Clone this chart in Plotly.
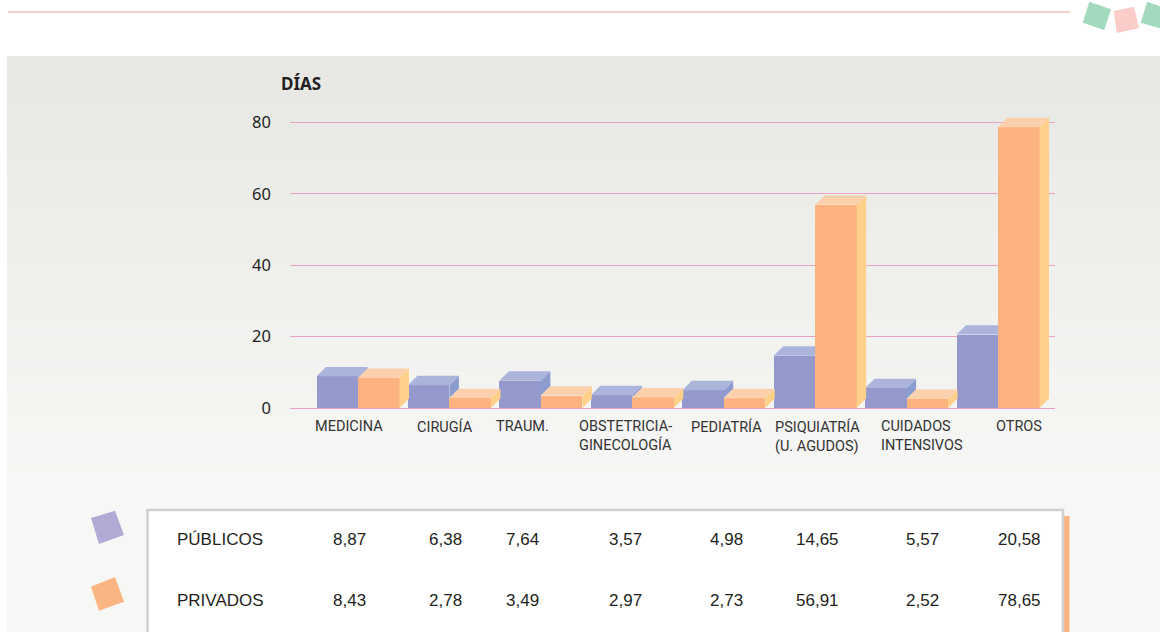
import plotly.graph_objects as go

# ---------------- data ----------------
categories = ["MEDICINA", "CIRUGÍA", "TRAUM.", "OBSTETRICIA-<br>GINECOLOGÍA", "PEDIATRÍA",
              "PSIQUIATRÍA<br>(U. AGUDOS)", "CUIDADOS<br>INTENSIVOS", "OTROS"]
publicos = [8.87, 6.38, 7.64, 3.57, 4.98, 14.65, 5.57, 20.58]
privados = [8.43, 2.78, 3.49, 2.97, 2.73, 56.91, 2.52, 78.65]
series_names = ["PÚBLICOS", "PRIVADOS"]
y_ticks = [0, 20, 40, 60, 80]
y_title = "DÍAS"

# ---------------- layout constants ----------------
W, H = 1160, 632
def PX(x):
    return x / W
def PY(y):
    return 1 - y / H

C_PUB_FRONT, C_PUB_TOP, C_PUB_SIDE = "#9598CA", "#ABB5DB", "#8D9CCF"
C_PRI_FRONT, C_PRI_TOP, C_PRI_SIDE = "#FDB27F", "#FCD0AC", "#FFD089"
GRID = "#E9A2C5"
TXT = "#231F20"

X_LEFT_PX, X_RIGHT_PX = 290, 1055
CAT0_PX, CAT_STEP_PX = 358, 91.43
Y0_PX, Y_TOP_PX, PX_PER_UNIT = 408, 100, 3.57
x_range = [(X_LEFT_PX - CAT0_PX) / CAT_STEP_PX, (X_RIGHT_PX - CAT0_PX) / CAT_STEP_PX]
y_range = [0, (Y0_PX - Y_TOP_PX) / PX_PER_UNIT]

BW = 41.5 / CAT_STEP_PX      # bar width (x units)
DX = 9.5 / CAT_STEP_PX        # 3D depth, x
DY = 9.4 / PX_PER_UNIT        # 3D depth, y

COL_X_PX = [349, 445, 522.5, 625, 726, 817, 922, 1019]   # label / table column centres

idx = list(range(len(categories)))

fig = go.Figure()
# front faces
fig.add_trace(go.Bar(x=idx, y=publicos, width=BW, offset=-BW, marker_color=C_PUB_FRONT,
                     marker_line_width=0, name=series_names[0], showlegend=False, hoverinfo="skip"))
fig.add_trace(go.Bar(x=idx, y=privados, width=BW, offset=0, marker_color=C_PRI_FRONT,
                     marker_line_width=0, name=series_names[1], showlegend=False, hoverinfo="skip"))

def poly_trace(xs, ys, color):
    return go.Scatter(x=xs, y=ys, mode="lines", fill="toself", fillcolor=color,
                      line=dict(width=0, color=color), showlegend=False, hoverinfo="skip")

# público top + visible side
ptx, pty, psx, psy = [], [], [], []
for i, (v, p) in zip(idx, zip(publicos, privados)):
    if v >= p:
        ptx += [i - BW, i, i + DX, i - BW + DX, i - BW, None]
        pty += [v, v, v + DY, v + DY, v, None]
        psx += [i, i, i + DX, i + DX, i, None]
        psy += [p, v, v + DY, p + DY, p, None]
    else:
        ptx += [i - BW, i, i, i - BW + DX, i - BW, None]
        pty += [v, v, v + DY, v + DY, v, None]
fig.add_trace(poly_trace(psx, psy, C_PUB_SIDE))
fig.add_trace(poly_trace(ptx, pty, C_PUB_TOP))

# privado top + side
qtx, qty, qsx, qsy = [], [], [], []
for i, p in zip(idx, privados):
    qtx += [i, i + BW, i + BW + DX, i + DX, i, None]
    qty += [p, p, p + DY, p + DY, p, None]
    qsx += [i + BW, i + BW, i + BW + DX, i + BW + DX, i + BW, None]
    qsy += [0, p, p + DY, DY, 0, None]
fig.add_trace(poly_trace(qsx, qsy, C_PRI_SIDE))
fig.add_trace(poly_trace(qtx, qty, C_PRI_TOP))

# ---------------- decorations ----------------
shapes = []
top_c, bot_c = (231, 231, 227), (247, 247, 245)
y_start, y_end, n = 56, 490, 40
for k in range(n):
    t = k / (n - 1)
    c = tuple(round(top_c[j] + (bot_c[j] - top_c[j]) * t) for j in range(3))
    ya = y_start + (y_end - y_start) * k / n
    yb = y_start + (y_end - y_start) * (k + 1) / n + 1
    shapes.append(dict(type="rect", xref="paper", yref="paper", x0=PX(7), x1=PX(1160),
                       y0=PY(yb), y1=PY(ya), fillcolor="rgb(%d,%d,%d)" % c, line_width=0, layer="below"))
shapes.append(dict(type="rect", xref="paper", yref="paper", x0=PX(7), x1=PX(1160),
                   y0=PY(632), y1=PY(y_end), fillcolor="rgb(%d,%d,%d)" % bot_c, line_width=0, layer="below"))
shapes.append(dict(type="line", xref="paper", yref="paper", x0=PX(8), x1=PX(1070), y0=PY(12), y1=PY(12),
                   line=dict(color="#FBD0CC", width=2)))

def path(pts):
    return "M " + " L ".join("%.5f,%.5f" % (PX(a), PY(b)) for a, b in pts) + " Z"

shapes.append(dict(type="path", xref="paper", yref="paper", line_width=0, fillcolor="#A3D9BD",
                   path=path([(1089.3, 1.7), (1111, 9.3), (1104.3, 30), (1082.7, 22.7)])))
shapes.append(dict(type="path", xref="paper", yref="paper", line_width=0, fillcolor="#FBCDC8",
                   path=path([(1113.7, 11), (1134, 6.7), (1139, 28.3), (1116.7, 33)])))
shapes.append(dict(type="path", xref="paper", yref="paper", line_width=0, fillcolor="#A3D9BD",
                   path=path([(1147.3, 1.7), (1160, 6.2), (1160, 28.2), (1140.7, 22.7)])))

# table box
shapes.append(dict(type="rect", xref="paper", yref="paper", x0=PX(1064), x1=PX(1069.5), y0=PY(632), y1=PY(516),
                   fillcolor="#FBB47F", line_width=0))
shapes.append(dict(type="rect", xref="paper", yref="paper", x0=PX(147.5), x1=PX(1063), y0=PY(634), y1=PY(510),
                   fillcolor="white", line=dict(color="#CFCFD3", width=2.5)))
# legend squares
shapes.append(dict(type="path", xref="paper", yref="paper", line_width=0, fillcolor="#B3A9D5",
                   path=path([(91, 518), (115, 510.7), (124, 535), (99, 544)])))
shapes.append(dict(type="path", xref="paper", yref="paper", line_width=0, fillcolor="#FBB582",
                   path=path([(91, 586.7), (115, 577), (124, 601.7), (99, 610.7)])))

# ---------------- text ----------------
ann = []
ann.append(dict(text="<b>%s</b>" % y_title, xref="paper", yref="paper", x=PX(279), y=PY(83),
                xanchor="left", yanchor="middle", showarrow=False,
                font=dict(family="Noto Sans", size=17, color=TXT)))
for cx, lab in zip(COL_X_PX, categories):
    ann.append(dict(text=lab, xref="paper", yref="paper", x=PX(cx), y=PY(416),
                    xanchor="center", yanchor="top", align="left", showarrow=False,
                    font=dict(family="Roboto", size=14.5, color="#333333")))
row_y = [539, 600.5]
for ry, name, vals in zip(row_y, series_names, [publicos, privados]):
    ann.append(dict(text=name, xref="paper", yref="paper", x=PX(175), y=PY(ry),
                    xanchor="left", yanchor="middle", showarrow=False,
                    font=dict(family="Liberation Sans", size=17, color=TXT)))
    for cx, v in zip(COL_X_PX, vals):
        ann.append(dict(text=("%.2f" % v).replace(".", ","), xref="paper", yref="paper", x=PX(cx), y=PY(ry),
                        xanchor="center", yanchor="middle", showarrow=False,
                        font=dict(family="Liberation Sans", size=17, color=TXT)))

fig.update_layout(
    template="none",
    width=W, height=H, margin=dict(l=0, r=0, t=0, b=0, pad=0, autoexpand=False),
    paper_bgcolor="white", plot_bgcolor="rgba(0,0,0,0)",
    barmode="overlay", bargap=0,
    shapes=shapes, annotations=ann,
    xaxis=dict(domain=[PX(X_LEFT_PX), PX(X_RIGHT_PX)], range=x_range, showgrid=False, zeroline=False,
               showticklabels=False, ticks="", showline=False, fixedrange=True, automargin=False),
    yaxis=dict(domain=[PY(Y0_PX), PY(Y_TOP_PX)], range=y_range, tickvals=y_ticks,
               showgrid=True, gridcolor=GRID, gridwidth=1, zeroline=True, zerolinecolor=GRID, zerolinewidth=1,
               showline=False, ticks="", ticklabelstandoff=18, automargin=False,
               tickfont=dict(family="Noto Sans", size=16.5, color=TXT), fixedrange=True),
    showlegend=False,
)

fig.write_html("out.html", config={"displayModeBar": False},
               post_script="document.body.style.margin='0';document.body.style.padding='0';")
